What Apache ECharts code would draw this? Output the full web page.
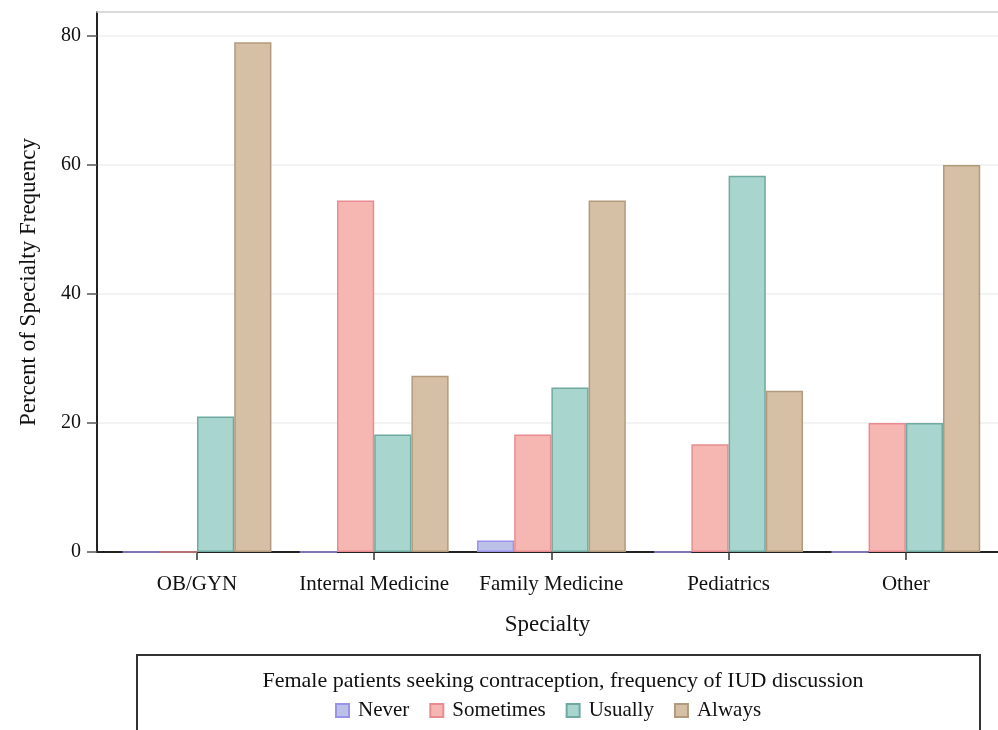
<!DOCTYPE html>
<html>
<head>
<meta charset="utf-8">
<script src="https://cdn.jsdelivr.net/npm/echarts@6/dist/echarts.min.js"></script>
<style>
  html, body { margin: 0; padding: 0; background: #ffffff; }
  #chart { width: 998px; height: 730px; }
</style>
</head>
<body>
<div id="chart"></div>
<script>
// Specialties on the x axis
const specialties = ['OB/GYN', 'Internal Medicine', 'Family Medicine', 'Pediatrics', 'Other'];

// Percent of each specialty reporting each frequency of IUD discussion
const never     = [0, 0, 1.8, 0, 0];
const sometimes = [0, 54.5, 18.2, 16.7, 20];
const usually   = [21, 18.2, 25.5, 58.3, 20];
const always    = [79, 27.3, 54.5, 25, 60];

// Y axis ticks
const yTicks = [0, 20, 40, 60, 80];
const yMax = 83.7;

const FONT = 'Liberation Serif';
const INK = '#111111';

const seriesDefs = [
  { name: 'Never',     data: never,     fill: '#bcc1e8', edge: '#9b92ec' },
  { name: 'Sometimes', data: sometimes, fill: '#f6b7b2', edge: '#e88c91' },
  { name: 'Usually',   data: usually,   fill: '#a9d5cf', edge: '#6fa99f' },
  { name: 'Always',    data: always,    fill: '#d5c0a6', edge: '#b29b7c' }
];

const chart = echarts.init(document.getElementById('chart'), null, { renderer: 'canvas' });

const plotTop = 12;
const plotBottom = 730 - 552;

chart.setOption({
  animation: false,
  backgroundColor: '#ffffff',
  textStyle: { fontFamily: FONT, color: INK },
  title: {
    text: 'Female patients seeking contraception, frequency of IUD discussion',
    left: 558,
    top: 665,
    textAlign: 'center',
    textStyle: { fontFamily: FONT, fontSize: 22, fontWeight: 'normal', color: INK }
  },
  legend: {
    data: seriesDefs.map(s => s.name),
    left: 330,
    top: 695,
    itemWidth: 13,
    itemHeight: 13,
    itemGap: 20,
    icon: 'rect',
    textStyle: { fontFamily: FONT, fontSize: 21, color: INK, padding: [0, 0, 0, 4] }
  },
  graphic: [{
    type: 'rect',
    shape: { x: 137, y: 655, width: 843, height: 90 },
    style: { fill: 'none', stroke: '#333333', lineWidth: 2 },
    silent: true
  }],
  grid: [
    // frame: axis lines, gridlines, y labels
    { left: 97, right: -10, top: plotTop, bottom: plotBottom },
    // bars and category labels
    { left: 108.4, width: 886, top: plotTop, bottom: plotBottom }
  ],
  xAxis: [
    {
      gridIndex: 0, type: 'value', min: 0, max: 1, position: 'bottom',
      axisLine: { show: true, lineStyle: { color: '#222222', width: 2 } },
      axisTick: { show: false }, axisLabel: { show: false }, splitLine: { show: false },
      name: 'Specialty', nameLocation: 'middle', nameGap: 61,
      nameTextStyle: { fontFamily: FONT, fontSize: 23, color: INK }
    },
    {
      gridIndex: 0, type: 'value', min: 0, max: 1, position: 'top',
      axisLine: { show: true, lineStyle: { color: '#d0d0d0', width: 1.5 } },
      axisTick: { show: false }, axisLabel: { show: false }, splitLine: { show: false }
    },
    {
      gridIndex: 1, type: 'category', data: specialties,
      axisLine: { show: false },
      axisTick: { show: true, interval: 0, alignWithLabel: true, length: 8, lineStyle: { color: '#333333', width: 1.5 } },
      axisLabel: { interval: 0, hideOverlap: false, fontFamily: FONT, fontSize: 21, color: INK, margin: 22 },
      splitLine: { show: false }
    }
  ],
  yAxis: [
    {
      gridIndex: 0, type: 'value', min: 0, max: yMax, interval: 20,
      axisLine: { show: true, lineStyle: { color: '#222222', width: 2 } },
      axisTick: { show: true, length: 10, customValues: yTicks, lineStyle: { color: '#555555', width: 1.5 } },
      axisLabel: {
        fontFamily: FONT, fontSize: 20, color: INK, margin: 16,
        customValues: yTicks
      },
      splitLine: { show: true, lineStyle: { color: '#efefef', width: 1.5 } },
      name: 'Percent of Specialty Frequency', nameLocation: 'middle', nameGap: 57, nameRotate: 90,
      nameTextStyle: { fontFamily: FONT, fontSize: 23, color: INK }
    },
    {
      gridIndex: 1, type: 'value', min: 0, max: yMax, interval: 20,
      show: false
    }
  ],
  series: seriesDefs.map(s => ({
    name: s.name,
    type: 'bar',
    xAxisIndex: 2,
    yAxisIndex: 1,
    data: s.data,
    barGap: '0%',
    barCategoryGap: '16%',
    itemStyle: { color: s.fill, borderColor: s.edge, borderWidth: 1.5 }
  }))
});
</script>
</body>
</html>
